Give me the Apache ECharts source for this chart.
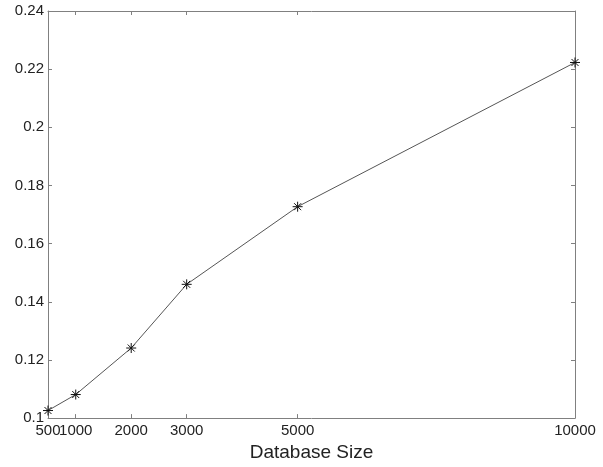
<!DOCTYPE html>
<html>
<head>
<meta charset="utf-8">
<script src="https://cdn.jsdelivr.net/npm/echarts@6/dist/echarts.min.js"></script>
<style>
  html, body { margin: 0; padding: 0; background: #fff; }
  #chart { width: 603px; height: 467px; }
</style>
</head>
<body>
<div id="chart"></div>
<script>
// database sizes and measured values
const sizes = [500, 1000, 2000, 3000, 5000, 10000];
const values = [0.1026, 0.1081, 0.1241, 0.146, 0.1727, 0.2223];
const xTicks = [500, 1000, 2000, 3000, 5000, 10000];

const axisColor = '#808080';
const textColor = '#222';
// asterisk marker (+ and x)
const star = 'path://M0,-1L0,1M-1,0L1,0M-0.7,-0.7L0.7,0.7M-0.7,0.7L0.7,-0.7';

const labelFont = { fontFamily: 'Liberation Sans', fontSize: 15, color: textColor };

const chart = echarts.init(document.getElementById('chart'));

const option = {
  animation: false,
  grid: { left: 48, right: 28, top: 11, bottom: 42 },
  xAxis: [
    {
      type: 'value',
      min: 500,
      max: 10000,
      name: 'Database Size',
      nameLocation: 'middle',
      nameGap: 15,
      nameTextStyle: { fontFamily: 'Liberation Sans', fontSize: 19, color: textColor },
      axisLine: { show: true, lineStyle: { color: axisColor } },
      axisTick: { show: true, inside: true, length: 4, customValues: xTicks, lineStyle: { color: axisColor } },
      // first label drawn by the helper axis below so it is not dropped as overlapping
      axisLabel: Object.assign({ customValues: xTicks.slice(1), formatter: v => String(v), margin: 5 }, labelFont),
      splitLine: { show: false }
    },
    {
      type: 'value',
      position: 'top',
      min: 500,
      max: 10000,
      axisLine: { show: true, lineStyle: { color: axisColor } },
      axisTick: { show: true, inside: true, length: 4, customValues: xTicks, lineStyle: { color: axisColor } },
      axisLabel: { show: false },
      splitLine: { show: false }
    },
    {
      type: 'value',
      position: 'bottom',
      offset: 0,
      min: 500,
      max: 10000,
      axisLine: { show: false },
      axisTick: { show: false },
      axisLabel: Object.assign({ customValues: xTicks.slice(0, 1), formatter: v => String(v), margin: 5 }, labelFont),
      splitLine: { show: false }
    }
  ],
  yAxis: [
    {
      type: 'value',
      min: 0.1,
      max: 0.24,
      interval: 0.02,
      axisLine: { show: true, lineStyle: { color: axisColor } },
      axisTick: { show: true, inside: true, length: 4, lineStyle: { color: axisColor } },
      axisLabel: Object.assign({ margin: 4 }, labelFont),
      splitLine: { show: false }
    },
    {
      type: 'value',
      position: 'right',
      min: 0.1,
      max: 0.24,
      interval: 0.02,
      axisLine: { show: true, lineStyle: { color: axisColor } },
      axisTick: { show: true, inside: true, length: 4, lineStyle: { color: axisColor } },
      axisLabel: { show: false },
      splitLine: { show: false }
    }
  ],
  series: [
    {
      type: 'line',
      xAxisIndex: 0,
      yAxisIndex: 0,
      data: sizes.map((s, i) => [s, values[i]]),
      lineStyle: { color: '#555', width: 1 },
      symbol: star,
      symbolSize: 10,
      itemStyle: { color: '#111', borderColor: '#111', borderWidth: 1 }
    }
  ]
};

chart.setOption(option);
</script>
</body>
</html>
